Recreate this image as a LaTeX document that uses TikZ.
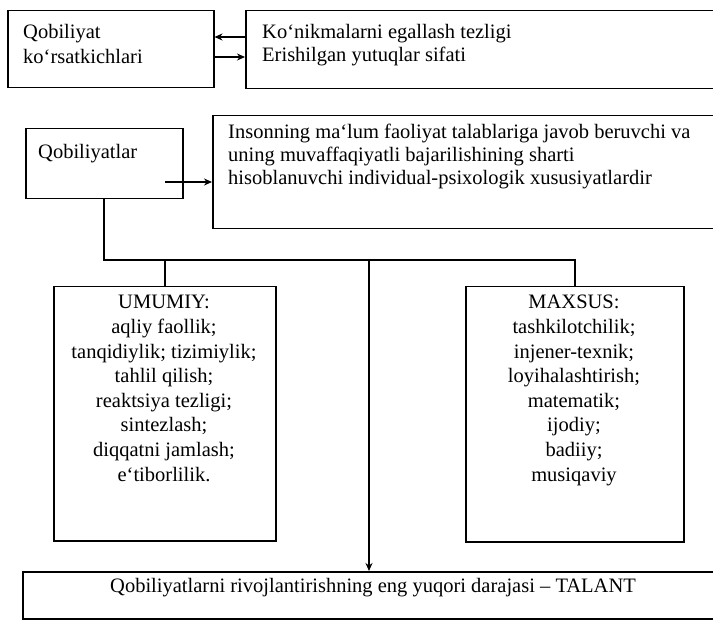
\documentclass[tikz,border=0pt]{standalone}
\usepackage{fontspec}
\setmainfont{Liberation Serif}
\usetikzlibrary{arrows.meta}
\begin{document}
\begin{tikzpicture}[x=1pt,y=-1pt,
  box/.style={draw, line width=1.5pt, inner sep=0pt, anchor=north west},
  conn/.style={line width=2pt},
  arr/.style={line width=1.6pt, -{Stealth[length=8pt,width=7pt]}},
  txt/.style={font=\fontsize{20.5}{24}\selectfont, inner sep=0pt}
]
\useasboundingbox (0,0) rectangle (713,620);
\clip (0,0) rectangle (713,620);
\fill[white] (0,0) rectangle (713,620);

% top row
\node[box, minimum width=206pt, minimum height=77pt] (b1) at (7,10) {};
\node[box, minimum width=480pt, minimum height=78pt] (b2) at (245,10) {};
\node[txt, anchor=base west] (b1t1) at (23,39) {Qobiliyat};
\node[txt, anchor=base west] (b1t2) at (23,64) {ko‘rsatkichlari};
\node[txt, anchor=base west] (b2t1) at (262,39) {Ko‘nikmalarni egallash tezligi};
\node[txt, anchor=base west] (b2t2) at (262,62) {Erishilgan yutuqlar sifati};
\draw[arr] (b2.west |- 0,37) -- (b1.east |- 0,37);
\draw[arr] (b1.east |- 0,57) -- (b2.west |- 0,57);

% second row
\node[box, minimum width=157pt, minimum height=70pt] (b3) at (25,128) {};
\node[txt, anchor=base west] (b3t) at (38,159) {Qobiliyatlar};
\node[box, minimum width=510pt, minimum height=113pt] (b4) at (212,115) {};
\node[txt, anchor=base west] (b4t1) at (228,139) {Insonning ma‘lum faoliyat talablariga javob beruvchi va};
\node[txt, anchor=base west] (b4t2) at (228,162) {uning muvaffaqiyatli bajarilishining sharti};
\node[txt, anchor=base west] (b4t3) at (228,185) {hisoblanuvchi individual-psixologik xususiyatlardir};
\coordinate (a3) at (165,182);
\draw[arr] (a3) -- (b4.west |- a3);

% lower boxes
\node[box, minimum width=222pt, minimum height=254pt] (um) at (53,286) {};
\node[box, minimum width=218pt, minimum height=255pt] (mx) at (465,286) {};
\foreach \t [count=\i] in {{UMUMIY:},{aqliy faollik;},{tanqidiylik; tizimiylik;},{tahlil qilish;},{reaktsiya tezligi;},{sintezlash;},{diqqatni jamlash;},{e‘tiborlilik.}}
  \node[txt, anchor=base] (u\i) at (164,{309+24.6*(\i-1)}) {\t};
\foreach \t [count=\i] in {{MAXSUS:},{tashkilotchilik;},{injener-texnik;},{loyihalashtirish;},{matematik;},{ijodiy;},{badiiy;},{musiqaviy}}
  \node[txt, anchor=base] (m\i) at (574,{309+24.6*(\i-1)}) {\t};

\node[box, minimum width=700pt, minimum height=47pt] (tal) at (22,571) {};
\node[txt, anchor=base] (talt) at (373,592) {Qobiliyatlarni rivojlantirishning eng yuqori darajasi – TALANT};

% connectors
\coordinate (mid) at (369,260);
\draw[conn] (b3.south) -- (b3.south |- mid) -- (mx.north |- mid) -- (mx.north);
\draw[conn] (um.north |- mid) -- (um.north);
\draw[arr, line width=2pt] (mid) -- (tal.north -| mid);
\end{tikzpicture}
\end{document}
